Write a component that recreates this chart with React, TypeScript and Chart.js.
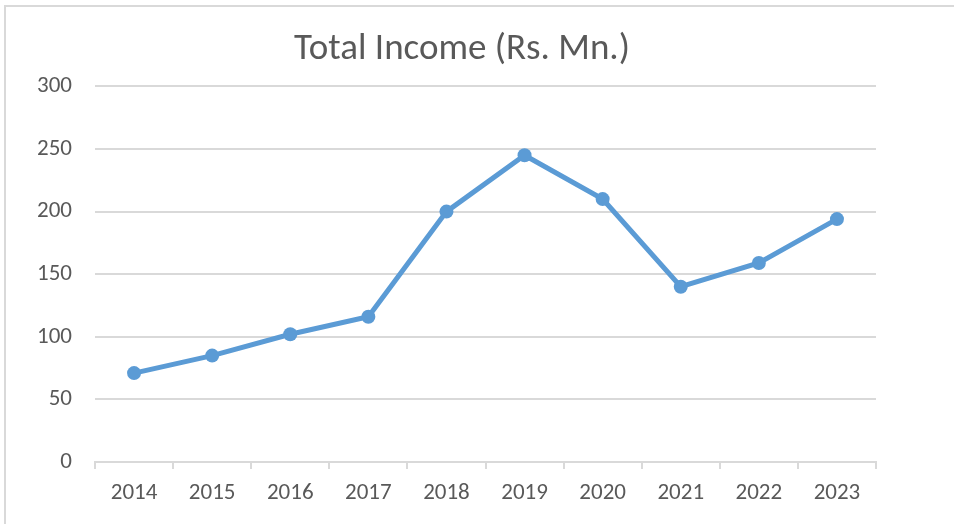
import React, { useEffect, useRef } from "react";
import { Chart, registerables } from "chart.js";

Chart.register(...registerables);

const TITLE = "Total Income (Rs. Mn.)";
const YEARS = ["2014", "2015", "2016", "2017", "2018", "2019", "2020", "2021", "2022", "2023"];
const TOTAL_INCOME = [71, 85, 102, 116, 200, 245, 210, 140, 159, 194];
const Y_MIN = 0;
const Y_MAX = 300;
const Y_STEP = 50;

const FONT = "Carlito, Calibri, Lato, 'Open Sans', sans-serif";
const TEXT = "#595959";
const GRID = "#d9d9d9";
const LINE = "#5B9BD5";

const titleShift = {
  id: "titleShift",
  afterLayout(chart: any) {
    const t = chart.titleBlock;
    if (t) {
      t.left = 48;
    }
  },
};

export default function App() {
  const ref = useRef<HTMLCanvasElement | null>(null);

  useEffect(() => {
    document.body.style.margin = "0";
    const ctx = ref.current!;
    const chart = new Chart(ctx, {
      type: "line",
      data: {
        labels: YEARS,
        datasets: [
          {
            label: TITLE,
            data: TOTAL_INCOME,
            borderColor: LINE,
            backgroundColor: LINE,
            borderWidth: 5,
            pointRadius: 7,
            pointBackgroundColor: LINE,
            pointBorderWidth: 0,
            tension: 0,
            fill: false,
          },
        ],
      },
      options: {
        animation: false,
        responsive: false,
        maintainAspectRatio: false,
        layout: { padding: { left: 0, right: 78, top: 0, bottom: 0 } },
        plugins: {
          legend: { display: false },
          tooltip: { enabled: false },
          title: {
            display: true,
            text: TITLE,
            color: TEXT,
            font: { family: FONT, size: 37, weight: "normal" },
            padding: { top: 28, bottom: 14 },
          },
        },
        scales: {
          x: {
            offset: true,
            grid: {
              drawOnChartArea: false,
              offset: true,
              drawTicks: true,
              tickLength: 7,
              color: GRID,
              lineWidth: 2,
            },
            border: { display: true, color: GRID, width: 2 },
            ticks: {
              color: TEXT,
              padding: 10,
              maxRotation: 0,
              font: { family: FONT, size: 23 },
            },
            afterFit: (s: any) => {
              s.height = 62;
            },
          },
          y: {
            min: Y_MIN,
            max: Y_MAX,
            grid: { color: GRID, lineWidth: 2, drawTicks: false },
            border: { display: false },
            ticks: {
              stepSize: Y_STEP,
              color: TEXT,
              padding: 23,
              font: { family: FONT, size: 23 },
            },
            afterFit: (s: any) => {
              s.width = 95;
            },
          },
        },
      },
      plugins: [titleShift],
    });
    return () => chart.destroy();
  }, []);

  return (
    <div style={{ position: "relative", width: 954, height: 524, background: "#fff", overflow: "hidden" }}>
      <canvas ref={ref} width={954} height={524} style={{ display: "block", width: 954, height: 524 }} />
      <div style={{ position: "absolute", left: 4, top: 5, width: 950, height: 2, background: GRID }} />
      <div style={{ position: "absolute", left: 4, top: 5, width: 2, height: 519, background: GRID }} />
    </div>
  );
}
